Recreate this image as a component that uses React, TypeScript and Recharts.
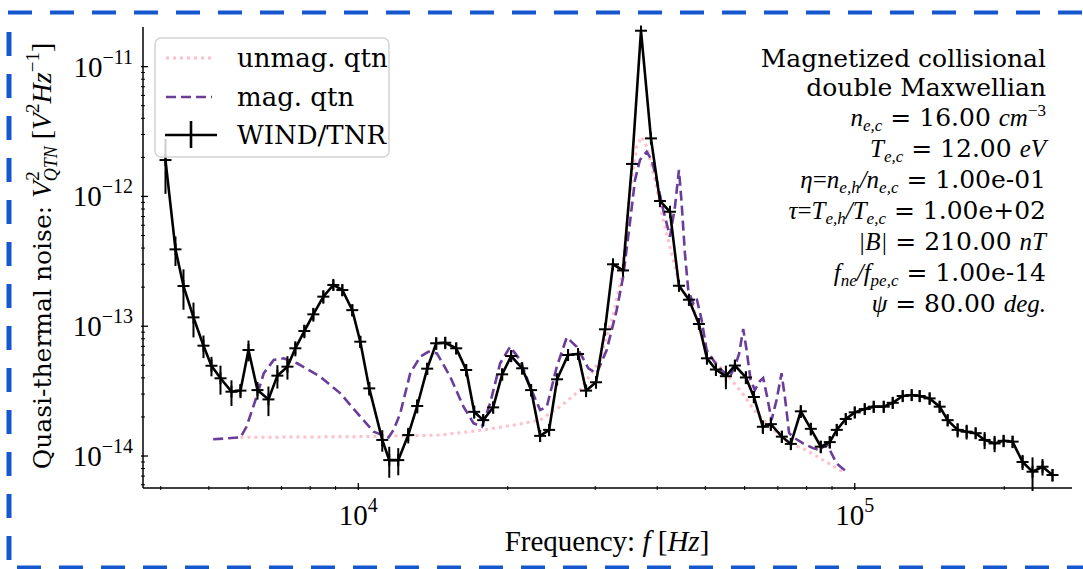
import React from "react";
import { ErrorBar, Line, LineChart, XAxis, YAxis } from "recharts";

const W = 1083;
const H = 569;

const SERIF = "'DejaVu Serif', serif";
const MATH = "'Liberation Serif', serif";
const PINK = "#ffc0cb";
const PURPLE = "#6a3d9a";
const FRAME_BLUE = "#1557cf";

// WIND/TNR spectrum: frequency [Hz], V^2 in units of 1e-14 V^2/Hz, 1-sigma error (same unit)
const tnrFreq = [
  4089, 4283, 4445, 4656, 4877, 5061, 5277, 5553, 5790, 6009, 6265, 6592, 6871, 7199, 7468, 7786,
  8118, 8502, 8907, 9286, 9725, 10093, 10522, 11176, 11544, 12036, 12606, 13143, 13765, 14352,
  14966, 15747, 16493, 17117, 17846, 18690, 19486, 20316, 21380, 22289, 23238, 24228, 25142,
  26455, 27712, 28759, 30120, 31405, 32590, 34133, 35589, 37103, 38858, 40514, 42442, 44249,
  46345, 48539, 50378, 52522, 55009, 57358, 60355, 62634, 65300, 67764, 71304, 74339, 77862,
  81565, 85421, 89058, 91996, 95918, 100000, 104740, 109190, 114380, 119250, 124900, 130220,
  135130, 141520, 148250, 153850, 161130, 168020, 175180, 182640, 191280, 199440, 207930,
  217770, 228080, 238900, 250220,
];
const tnrValue = [
  190.7, 39.1, 20.4, 11.7, 7.08, 4.96, 3.97, 3.13, 3.19, 6.56, 3.22, 2.73, 4.16, 4.88, 6.76, 9.18,
  12.35, 16.9, 20.8, 19.0, 13.3, 7.6, 3.32, 1.33, 0.93, 0.93, 1.45, 2.43, 4.71, 7.39,
  7.46, 6.76, 4.6, 2.19, 1.89, 2.37, 4.26, 5.89, 4.74, 3.22, 1.43, 1.59, 3.9,
  6.0, 6.11, 3.19, 3.7, 9.47, 30.0, 26.9, 178, 1891, 280, 92.2, 76.2, 20.5,
  16.0, 10.4, 5.66, 4.64, 4.12, 4.98, 4.03, 2.85, 1.68, 1.76, 1.41, 1.24, 2.21,
  1.62, 1.18, 1.28, 1.59, 1.93, 2.17, 2.3, 2.4, 2.4, 2.57, 2.9, 2.95,
  2.9, 2.78, 2.4, 1.89, 1.59, 1.54, 1.5, 1.33, 1.25, 1.31, 1.29,
  0.9, 0.757, 0.827, 0.714,
];
const tnrErr = [
  86, 10, 7, 3.5, 1.4, 0.85, 1.0, 0.7, 0.4, 1.2, 0.5, 0.7, 0.85, 1.0, 0.9, 1.1,
  1.5, 2.0, 2.0, 2.0, 1.4, 0.8, 0.4, 0.25, 0.25, 0.22, 0.2, 0.3, 0.5, 0.8,
  0.8, 0.7, 0.5, 0.25, 0.2, 0.25, 0.45, 0.6, 0.5, 0.35, 0.15, 0.17, 0.4,
  0.6, 0.6, 0.35, 0.4, 1.0, 3, 2.7, 17, 180, 28, 9, 7.5, 2,
  1.6, 1.0, 0.6, 0.5, 0.85, 0.5, 0.45, 0.3, 0.2, 0.2, 0.15, 0.13, 0.25,
  0.18, 0.13, 0.14, 0.17, 0.2, 0.22, 0.23, 0.25, 0.25, 0.26, 0.3, 0.3,
  0.3, 0.3, 0.25, 0.2, 0.2, 0.2, 0.15, 0.2, 0.18, 0.14, 0.14,
  0.12, 0.22, 0.12, 0.08,
];

// magnetized QTN model
const magFreq = [
  5101, 5790, 5953, 6207, 6450, 6755, 7075, 7527, 8385, 9201, 10093, 10734, 11508, 11777, 12146,
  12723, 13327, 13850, 14402, 15316, 16289, 17061, 17740, 18433, 19307, 20222, 21184, 22182,
  23238, 23974, 25110, 26300, 27542, 29067, 30222, 31652, 33150, 34181, 35263, 36085, 36932,
  38095, 38984, 39902, 41144, 42442, 43431, 44249, 44802, 45490, 46197, 47273, 48030, 49148,
  50308, 52691, 54325, 56040, 57358, 58508, 59608, 60550, 61680, 62923, 64403, 65388, 66604,
  67983, 69583, 71205, 72313, 73760, 75741, 78710, 82434, 85030, 87710, 89766, 91878, 96226,
];
const magValue = [
  1.345, 1.393, 1.68, 2.7, 4.34, 5.49, 5.66, 5.18, 4.08, 3.04, 2.01, 1.54, 1.39, 1.59, 2.13,
  4.34, 5.82, 6.36, 6.18, 4.08, 2.4, 1.79, 1.68, 2.55, 5.18, 6.95, 5.49, 3.42,
  2.26, 2.4, 4.88, 8.21, 6.95, 4.74, 4.34, 6.56, 13.3, 24.4, 63.5, 134, 191,
  221, 191, 134, 78.6, 48.9, 83.3, 160, 88.5, 36.4, 19.0, 15.0, 16.4, 11.2,
  6.56, 5.02, 4.46, 4.08, 4.88, 6.18, 9.52, 6.56, 3.85, 3.22, 3.78, 3.99, 2.86,
  1.89, 2.7, 4.34, 2.86, 1.5, 1.37, 1.25, 1.15, 1.11, 1.25, 1.05, 0.879, 0.757,
];

// unmagnetized QTN model
const unmagFreq = [
  5790, 7643, 9636, 12146, 14622, 17846, 21184, 23238, 25491, 27970, 30684, 32590, 33929, 35263,
  36377, 37223, 38095, 39589, 41144, 43094, 44451, 47273, 50308, 54325, 58707, 63425, 68503,
  73993, 79962, 86326, 93303, 95918,
];
const unmagValue = [
  1.393, 1.401, 1.408, 1.426, 1.451, 1.586, 1.764, 1.894, 2.4, 3.22, 5.49, 12.2, 24.1, 106,
  242, 288, 242, 134, 65.8, 32.4, 20.2, 14.1, 6.18, 4.6, 3.22, 2.13, 1.59,
  1.25, 1.11, 0.932, 0.78, 0.753,
];

const xTicks = [
  4000, 5000, 6000, 7000, 8000, 9000, 10000, 20000, 30000, 40000, 50000, 60000, 70000, 80000,
  90000, 100000, 200000,
];
const yTicks = [
  6e-15, 7e-15, 8e-15, 9e-15, 1e-14, 2e-14, 3e-14, 4e-14, 5e-14, 6e-14, 7e-14, 8e-14, 9e-14,
  1e-13, 2e-13, 3e-13, 4e-13, 5e-13, 6e-13, 7e-13, 8e-13, 9e-13, 1e-12, 2e-12, 3e-12, 4e-12,
  5e-12, 6e-12, 7e-12, 8e-12, 9e-12, 1e-11,
];

const X_DOMAIN = [3684, 273900];
const Y_DOMAIN = [5.67e-15, 2.02e-11];

const UNIT = 1e-14;
const tnrData = tnrFreq.map((f, i) => ({ f, v: tnrValue[i] * UNIT, err: tnrErr[i] * UNIT }));
const magData = magFreq.map((f, i) => ({ f, v: magValue[i] * UNIT }));
const unmagData = unmagFreq.map((f, i) => ({ f, v: unmagValue[i] * UNIT }));

function isDecade(v: number) {
  const lg = Math.log10(v);
  return Math.abs(lg - Math.round(lg)) < 1e-6;
}

// log-axis tick: inward tick mark, label only on decades (matplotlib style)
function LogTick(props: any) {
  const { x, y, payload, side } = props;
  const v = payload.value;
  const major = isDecade(v);
  const len = major ? 7 : 4;
  const exp = Math.round(Math.log10(v));
  const st = { stroke: "#000", strokeWidth: major ? 1.3 : 1 };
  const expText = exp < 0 ? "\u2212" + Math.abs(exp) : String(exp);
  if (side === "bottom") {
    return (
      <g>
        <line x1={x} x2={x} y1={y} y2={y - len} {...st} />
        {major && (
          <text x={x} y={y + 35} textAnchor="middle" fontFamily={MATH} fontSize={29} fill="#000">
            <tspan>10</tspan>
            <tspan dy={-13} fontSize={20}>{expText}</tspan>
          </text>
        )}
      </g>
    );
  }
  if (side === "top") return <line x1={x} x2={x} y1={y} y2={y + len} {...st} />;
  if (side === "left") {
    return (
      <g>
        <line x1={x} x2={x + len} y1={y} y2={y} {...st} />
        {major && (
          <text x={x - 8} y={y + 10} textAnchor="end" fontFamily={MATH} fontSize={29} fill="#000">
            <tspan>10</tspan>
            <tspan dy={-13} fontSize={20}>{expText}</tspan>
          </text>
        )}
      </g>
    );
  }
  return <line x1={x - len} x2={x} y1={y} y2={y} {...st} />;
}

const renderPlus = (p: any) => {
  const { cx, cy, index } = p;
  if (cx == null || cy == null) return <g key={`tnr-${index}`} />;
  return (
    <g key={`tnr-${index}`}>
      <line x1={cx - 6} x2={cx + 6} y1={cy} y2={cy} stroke="#000" strokeWidth={2} />
      <line x1={cx} x2={cx} y1={cy - 6} y2={cy + 6} stroke="#000" strokeWidth={2} />
    </g>
  );
};

const frameAxis = { stroke: "#000", strokeWidth: 1.5 };

function Overlay() {
  const it = { fontFamily: MATH, fontStyle: "italic" as const, fontSize: 25 };
  const sub = { fontFamily: MATH, fontStyle: "italic" as const, fontSize: 17 };
  const rm = { fontFamily: SERIF, fontSize: 25 };
  const lg = { fontFamily: SERIF, fontSize: 26 };
  const ax = 1046;
  return (
    <svg
      width={W}
      height={H}
      style={{ position: "absolute", left: 0, top: 0, pointerEvents: "none" }}
    >
      {/* blue dashed selection frame */}
      <line x1={8} x2={W} y1={12.5} y2={12.5} stroke={FRAME_BLUE} strokeWidth={4} strokeDasharray="24 18" />
      <line x1={9} x2={9} y1={32} y2={H} stroke={FRAME_BLUE} strokeWidth={5} strokeDasharray="24 18" />
      <line x1={17} x2={W} y1={567.5} y2={567.5} stroke={FRAME_BLUE} strokeWidth={4} strokeDasharray="24 18" />

      {/* legend */}
      <rect x={155} y={38} width={234} height={119} rx={6} fill="#fff" fillOpacity={0.8} stroke="#d4d4d4" strokeWidth={1.5} />
      <line x1={166} x2={212} y1={58} y2={58} stroke={PINK} strokeWidth={3} strokeDasharray="3 4" />
      <text x={237} y={67} {...lg} fill="#000">unmag. qtn</text>
      <line x1={166} x2={212} y1={97} y2={97} stroke={PURPLE} strokeWidth={2.6} strokeDasharray="10 5" />
      <text x={237} y={106} {...lg} fill="#000">mag. qtn</text>
      <line x1={165} x2={217} y1={135} y2={135} stroke="#000" strokeWidth={2.6} />
      <line x1={191} x2={191} y1={121} y2={148} stroke="#000" strokeWidth={2.6} />
      <text x={237} y={144} {...lg} fill="#000">WIND/TNR</text>

      {/* parameters */}
      <g fill="#000" style={{ whiteSpace: "pre" }} textAnchor="end">
        <text x={ax} y={67} {...rm}>Magnetized collisional</text>
        <text x={ax} y={96} {...rm}>double Maxwellian</text>
        <text x={ax} y={126}>
          <tspan {...it}>n</tspan>
          <tspan {...sub} dy={5}>e,c</tspan>
          <tspan {...rm} dy={-5}> = 16.00 </tspan>
          <tspan {...it}>cm</tspan>
          <tspan {...sub} fontStyle="normal" dy={-10}>{"\u22123"}</tspan>
        </text>
        <text x={ax} y={157}>
          <tspan {...it}>T</tspan>
          <tspan {...sub} dy={5}>e,c</tspan>
          <tspan {...rm} dy={-5}> = 12.00 </tspan>
          <tspan {...it}>eV</tspan>
        </text>
        <text x={ax} y={188}>
          <tspan {...it}>{"\u03b7"}</tspan>
          <tspan {...it} fontStyle="normal">=</tspan>
          <tspan {...it}>n</tspan>
          <tspan {...sub} dy={5}>e,h</tspan>
          <tspan {...it} dy={-5}>/n</tspan>
          <tspan {...sub} dy={5}>e,c</tspan>
          <tspan {...rm} dy={-5}> = 1.00e-01</tspan>
        </text>
        <text x={ax} y={219}>
          <tspan {...it}>{"\u03c4"}</tspan>
          <tspan {...it} fontStyle="normal">=</tspan>
          <tspan {...it}>T</tspan>
          <tspan {...sub} dy={5}>e,h</tspan>
          <tspan {...it} dy={-5}>/T</tspan>
          <tspan {...sub} dy={5}>e,c</tspan>
          <tspan {...rm} dy={-5}> = 1.00e+02</tspan>
        </text>
        <text x={ax} y={250}>
          <tspan {...it}>|B|</tspan>
          <tspan {...rm}> = 210.00 </tspan>
          <tspan {...it}>nT</tspan>
        </text>
        <text x={ax} y={281}>
          <tspan {...it}>f</tspan>
          <tspan {...sub} dy={5}>ne</tspan>
          <tspan {...it} dy={-5}>/f</tspan>
          <tspan {...sub} dy={5}>pe,c</tspan>
          <tspan {...rm} dy={-5}> = 1.00e-14</tspan>
        </text>
        <text x={ax} y={312}>
          <tspan {...it}>{"\u03c8"}</tspan>
          <tspan {...rm}> = 80.00 </tspan>
          <tspan {...it}>deg.</tspan>
        </text>
      </g>

      {/* axis titles */}
      <text x={607} y={551} textAnchor="middle" fill="#000" style={{ whiteSpace: "pre" }}>
        <tspan fontFamily={MATH} fontSize={29}>Frequency: </tspan>
        <tspan fontFamily={MATH} fontStyle="italic" fontSize={29}>f</tspan>
        <tspan fontFamily={MATH} fontSize={29}> [</tspan>
        <tspan fontFamily={MATH} fontStyle="italic" fontSize={29}>Hz</tspan>
        <tspan fontFamily={MATH} fontSize={29}>]</tspan>
      </text>
      <text
        x={51}
        y={256}
        transform="rotate(-90 51 256)"
        textAnchor="middle"
        fill="#000"
        style={{ whiteSpace: "pre" }}
      >
        <tspan fontFamily={SERIF} fontSize={25}>Quasi-thermal noise: </tspan>
        <tspan fontFamily={MATH} fontStyle="italic" fontSize={28}>V</tspan>
        <tspan fontFamily={MATH} fontSize={19} dy={-12}>2</tspan>
        <tspan fontFamily={MATH} fontStyle="italic" fontSize={18} dx={-10} dy={18}>QTN</tspan>
        <tspan fontFamily={MATH} fontSize={28} dy={-6}> [</tspan>
        <tspan fontFamily={MATH} fontStyle="italic" fontSize={28}>V</tspan>
        <tspan fontFamily={MATH} fontSize={19} dy={-12}>2</tspan>
        <tspan fontFamily={MATH} fontStyle="italic" fontSize={28} dy={12}>Hz</tspan>
        <tspan fontFamily={MATH} fontSize={19} dy={-12}>{"\u22121"}</tspan>
        <tspan fontFamily={MATH} fontSize={28} dy={12}>]</tspan>
      </text>
    </svg>
  );
}

export default function App() {
  return (
    <div style={{ position: "absolute", left: 0, top: 0, width: W, height: H, background: "#fff" }}>
      <LineChart width={W} height={H} margin={{ top: 27, right: 11, bottom: 0, left: 0 }}>
        <XAxis
          dataKey="f"
          type="number"
          scale="log"
          domain={X_DOMAIN}
          allowDataOverflow
          ticks={xTicks}
          interval={0}
          height={81}
          tickSize={0}
          tickLine={false}
          axisLine={frameAxis}
          tick={(p: any) => <LogTick {...p} side="bottom" />}
        />
        <XAxis
          xAxisId="top"
          orientation="top"
          dataKey="f"
          type="number"
          scale="log"
          domain={X_DOMAIN}
          allowDataOverflow
          ticks={xTicks}
          interval={0}
          height={0}
          tickSize={0}
          tickLine={false}
          axisLine={frameAxis}
          tick={(p: any) => <LogTick {...p} side="top" />}
        />
        <YAxis
          type="number"
          scale="log"
          domain={Y_DOMAIN}
          allowDataOverflow
          ticks={yTicks}
          interval={0}
          width={143}
          tickSize={0}
          tickLine={false}
          axisLine={frameAxis}
          tick={(p: any) => <LogTick {...p} side="left" />}
        />
        <YAxis
          yAxisId="right"
          orientation="right"
          type="number"
          scale="log"
          domain={Y_DOMAIN}
          allowDataOverflow
          ticks={yTicks}
          interval={0}
          width={0}
          tickSize={0}
          tickLine={false}
          axisLine={frameAxis}
          tick={(p: any) => <LogTick {...p} side="right" />}
        />
        <Line
          data={unmagData}
          dataKey="v"
          type="linear"
          stroke={PINK}
          strokeWidth={3}
          strokeDasharray="3 4"
          dot={false}
          activeDot={false}
          isAnimationActive={false}
        />
        <Line
          data={magData}
          dataKey="v"
          type="linear"
          stroke={PURPLE}
          strokeWidth={2.6}
          strokeDasharray="10 5"
          dot={false}
          activeDot={false}
          isAnimationActive={false}
        />
        <Line
          data={tnrData}
          dataKey="v"
          type="linear"
          stroke="#000"
          strokeWidth={2.6}
          dot={renderPlus}
          activeDot={false}
          isAnimationActive={false}
        >
          <ErrorBar dataKey="err" width={0} stroke="#000" strokeWidth={2} direction="y" />
        </Line>
      </LineChart>
      <Overlay />
    </div>
  );
}
